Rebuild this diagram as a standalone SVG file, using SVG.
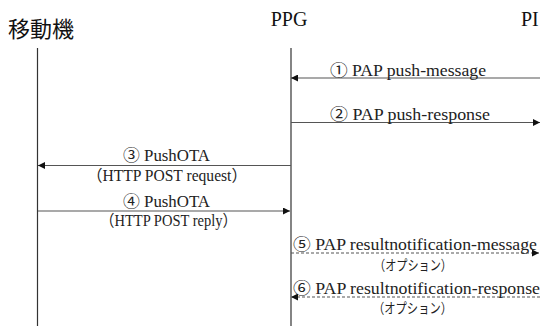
<svg xmlns="http://www.w3.org/2000/svg" width="540" height="326" viewBox="0 0 540 326">
<defs>
<marker id="ah" viewBox="0 0 10 10" refX="10" refY="5" markerWidth="9" markerHeight="7" markerUnits="userSpaceOnUse" orient="auto">
<path d="M0,0 L10,5 L0,10 z" fill="#111"/>
</marker>
</defs>
<style>
.t{font-family:"Liberation Serif","Noto Sans CJK JP",serif;font-size:16px;fill:#222}
.o{font-family:"Noto Sans CJK JP",sans-serif;font-size:14px;fill:#222}
.h{font-family:"Liberation Serif","Noto Sans CJK JP",serif;font-size:20px;fill:#111}
.j{font-family:"Noto Sans CJK JP","Noto Sans",sans-serif;font-size:22px;fill:#111}
.life{stroke:#333;stroke-width:1.2}
.msg{stroke:#555;stroke-width:1.2;fill:none;marker-end:url(#ah)}
.dash{stroke-dasharray:3,2}
</style>
<rect width="540" height="326" fill="#fff"/>
<g id="mobile">
<text class="j" x="8" y="37">移動機</text>
<line class="life" x1="37.5" y1="48" x2="37.5" y2="326"/>
</g>
<g id="ppg">
<text class="h" x="289" y="26" text-anchor="middle">PPG</text>
<line class="life" x1="291" y1="48" x2="291" y2="326"/>
</g>
<g id="pi">
<text class="h" x="521" y="26">PI</text>
</g>
<g id="connectors">
<line class="msg" x1="540" y1="78" x2="291" y2="78"/>
<line class="msg" x1="291" y1="122.5" x2="540" y2="122.5"/>
<line class="msg" x1="291" y1="165.5" x2="38" y2="165.5"/>
<line class="msg" x1="38" y1="211" x2="290" y2="211"/>
<line class="msg dash" x1="291" y1="253" x2="539" y2="253"/>
<line class="msg dash" x1="540" y1="297" x2="291" y2="297"/>
</g>
<g id="labels">
<text class="t" x="330" y="76" textLength="156" lengthAdjust="spacingAndGlyphs">① PAP push-message</text>
<text class="t" x="330" y="120" textLength="160" lengthAdjust="spacingAndGlyphs">② PAP push-response</text>
<text class="t" x="123" y="161" textLength="87" lengthAdjust="spacingAndGlyphs">③ PushOTA</text>
<text class="t" x="87" y="181" textLength="160" lengthAdjust="spacingAndGlyphs">（HTTP POST request）</text>
<text class="t" x="123" y="207" textLength="87" lengthAdjust="spacingAndGlyphs">④ PushOTA</text>
<text class="t" x="100" y="226" textLength="137" lengthAdjust="spacingAndGlyphs">（HTTP POST reply）</text>
<text class="t" x="293" y="250" textLength="244" lengthAdjust="spacingAndGlyphs">⑤ PAP resultnotification-message</text>
<text class="o" x="374" y="270" textLength="78" lengthAdjust="spacingAndGlyphs">（オプション）</text>
<text class="t" x="293" y="294" textLength="247" lengthAdjust="spacingAndGlyphs">⑥ PAP resultnotification-response</text>
<text class="o" x="373" y="313" textLength="79" lengthAdjust="spacingAndGlyphs">（オプション）</text>
</g>
</svg>
